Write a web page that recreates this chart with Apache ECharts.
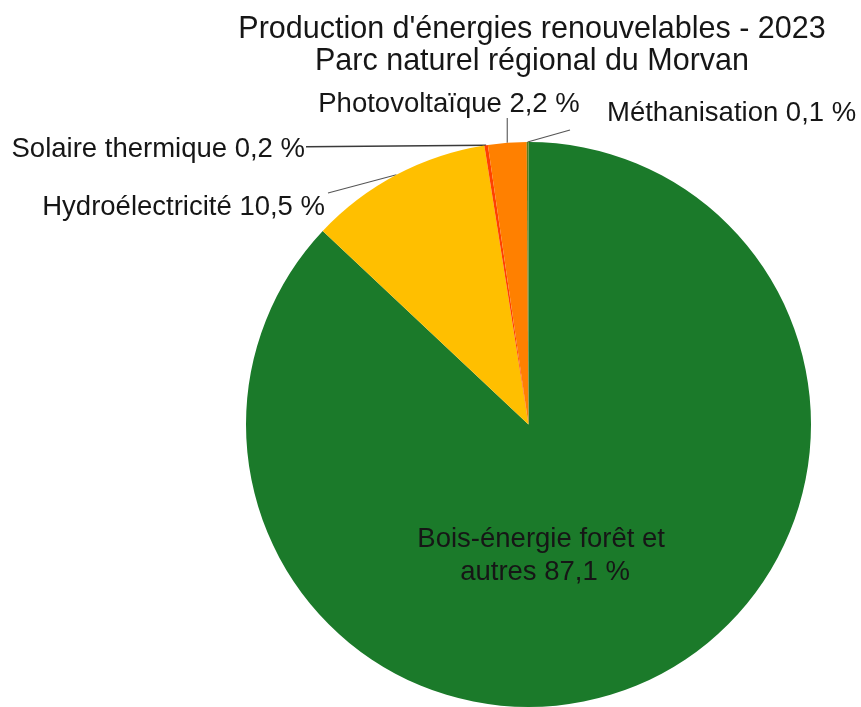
<!DOCTYPE html>
<html>
<head>
<meta charset="utf-8">
<script src="https://cdn.jsdelivr.net/npm/echarts@6/dist/echarts.min.js"></script>
<style>
  html, body { margin: 0; padding: 0; background: #ffffff; }
  #chart { width: 861px; height: 707px; }
</style>
</head>
<body>
<div id="chart"></div>
<script>
// Renewable energy production shares, 2023 (percent)
const categories = [
  'Bois-énergie forêt et autres',
  'Hydroélectricité',
  'Solaire thermique',
  'Photovoltaïque',
  'Méthanisation'
];
const shares = [87.1, 10.5, 0.2, 2.2, 0.1];
const titleLines = [
  "Production d'énergies renouvelables - 2023",
  'Parc naturel régional du Morvan'
];

// Styling
const sliceColors = ['#1b7a2a', '#ffbf00', '#ff4000', '#ff8000', '#5a7d1a'];
const FONT = '"Liberation Sans", Arial, sans-serif';
const TEXT = '#161616';
const PIE_CENTER = [528.5, 424.5];
const PIE_RADIUS = 282.5;

// Label anchors (text position) and where each leader line stops
const labelSpots = [
  { x: 545, y: 556, align: 'center' },
  { x: 325, y: 207, align: 'right', lineEnd: [328, 193] },
  { x: 305, y: 149, align: 'right', lineEnd: [306, null], lineWidth: 1.6 },
  { x: 449, y: 104, align: 'center', lineEnd: [null, 118] },
  { x: 607, y: 113, align: 'left', lineEnd: [570, 130] }
];

const fmt = v => v.toFixed(1).replace('.', ',') + ' %';

const seriesData = categories.map((name, i) => {
  const item = { name, value: shares[i], itemStyle: { color: sliceColors[i] } };
  if (i === 0) {
    item.label = { position: 'inside', width: 290, overflow: 'break', align: 'center', lineHeight: 33 };
    item.labelLine = { show: false };
  }
  if (labelSpots[i].lineWidth) {
    item.labelLine = { lineStyle: { width: labelSpots[i].lineWidth, color: '#3a3a3a' } };
  }
  return item;
});

// Outer-edge midpoint of a slice, used as the leader line start
function sliceEdgePoint(index) {
  const total = shares.reduce((a, b) => a + b, 0);
  let before = 0;
  for (let k = 0; k < index; k++) before += shares[k];
  const mid = (before + shares[index] / 2) / total * Math.PI * 2; // clockwise from top
  return [PIE_CENTER[0] + PIE_RADIUS * Math.sin(mid), PIE_CENTER[1] - PIE_RADIUS * Math.cos(mid)];
}

const chart = echarts.init(document.getElementById('chart'), null, { renderer: 'canvas' });
chart.setOption({
  backgroundColor: '#ffffff',
  animation: false,
  title: {
    text: titleLines.join('\n'),
    left: 527,
    top: 9,
    textAlign: 'center',
    textStyle: { fontFamily: FONT, fontSize: 30.5, fontWeight: 'normal', lineHeight: 32, color: TEXT }
  },
  series: [{
    type: 'pie',
    center: PIE_CENTER,
    radius: PIE_RADIUS,
    startAngle: 90,
    clockwise: true,
    avoidLabelOverlap: false,
    itemStyle: { borderWidth: 0 },
    emphasis: { disabled: true },
    label: {
      show: true,
      position: 'outside',
      fontFamily: FONT,
      fontSize: 27.5,
      color: TEXT,
      formatter: p => p.name + ' ' + fmt(p.value)
    },
    labelLine: {
      show: true,
      length: 10,
      length2: 10,
      lineStyle: { color: '#555555', width: 1.1 }
    },
    labelLayout: function (params) {
      const i = params.dataIndex;
      const spot = labelSpots[i];
      const out = { x: spot.x, y: spot.y, align: spot.align, verticalAlign: 'middle' };
      if (spot.lineEnd) {
        const start = sliceEdgePoint(i);
        const end = [
          spot.lineEnd[0] == null ? start[0] : spot.lineEnd[0],
          spot.lineEnd[1] == null ? start[1] + 1.5 : spot.lineEnd[1]
        ];
        out.labelLinePoints = [start, end, end];
      }
      return out;
    },
    data: seriesData
  }]
});
</script>
</body>
</html>
